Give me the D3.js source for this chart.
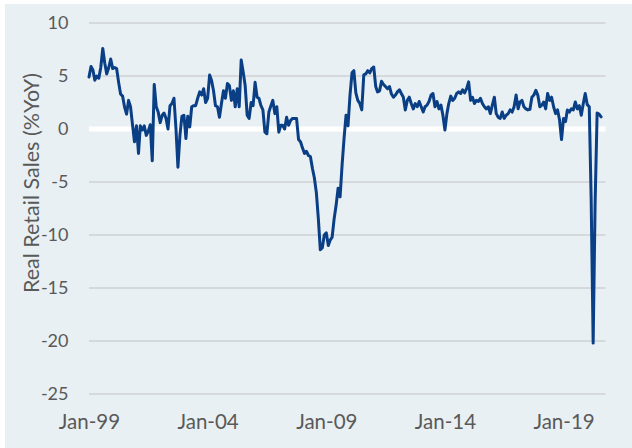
<!DOCTYPE html>
<html>
<head>
<meta charset="utf-8">
<script src="https://cdn.jsdelivr.net/npm/d3@7/dist/d3.min.js"></script>
<style>
  html, body { margin: 0; padding: 0; background: #ffffff; }
  svg { display: block; }
</style>
</head>
<body>
<svg id="chart" width="632" height="448"></svg>
<script>
// ---- data ----
const startMonth = "1999-01";
const retailYoY = [
  4.9, 5.9, 5.6, 4.6, 5.0, 4.8, 5.8, 7.6, 6.2, 5.2,
  5.8, 6.6, 5.7, 5.8, 5.7, 4.4, 3.3, 3.1, 2.1, 1.4,
  2.7, 2.1, 0.4, -1.2, 0.3, -2.3, 0.3, -0.1, 0.3, -0.6,
  -0.2, 0.4, -3.0, 4.2, 2.1, 1.6, 0.6, 1.3, 1.5, 1.0,
  0.0, 2.2, 2.4, 2.9, 0.0, -3.6, -0.6, 1.2, 1.3, -0.9,
  1.2, 0.2, 2.1, 2.2, 2.2, 2.9, 3.5, 3.2, 3.8, 2.5,
  2.9, 5.1, 4.6, 3.6, 2.2, 2.1, 1.1, 2.4, 3.6, 2.9,
  4.3, 4.1, 2.7, 3.6, 2.1, 3.8, 2.1, 6.5, 5.4, 4.1,
  1.3, 1.0, 2.5, 2.2, 4.4, 3.0, 2.9, 2.2, 1.8, -0.3,
  -0.45, 1.6, 2.2, 2.7, 1.45, 2.1, -0.3, 0.35, 0.35, 0.0,
  1.1, 0.35, 0.8, 1.0, 1.0, 1.0, -1.0, -1.2, -1.8, -2.3,
  -2.1, -2.5, -2.6, -3.7, -4.6, -6.0, -8.5, -11.4, -11.2, -10.0,
  -9.8, -11.0, -10.5, -10.2, -8.5, -7.2, -5.6, -6.4, -3.4, -0.9,
  1.3, 0.3, 3.2, 5.3, 5.5, 3.4, 2.7, 2.4, 1.8, 5.1,
  5.2, 5.5, 5.3, 5.7, 5.85, 4.0, 3.5, 3.6, 4.5, 4.2,
  4.0, 3.8, 4.0, 3.3, 3.0, 3.2, 3.5, 3.7, 3.35, 3.0,
  1.8, 2.7, 3.0, 2.4, 1.9, 2.4, 2.1, 2.6, 2.1, 1.6,
  2.1, 2.25, 2.6, 3.2, 3.35, 2.1, 2.6, 1.9, 2.25, 1.3,
  -0.1, 1.45, 2.4, 3.1, 2.7, 2.9, 3.35, 3.5, 3.35, 3.7,
  3.4, 3.8, 4.45, 2.7, 3.0, 2.4, 2.7, 2.6, 2.9, 2.4,
  2.1, 1.9, 2.1, 1.45, 2.25, 3.0, 1.45, 1.1, 1.0, 1.6,
  1.0, 1.3, 1.45, 1.8, 1.6, 2.1, 3.2, 1.9, 2.55, 2.7,
  2.1, 1.9, 1.8, 1.85, 3.0, 3.2, 3.65, 3.2, 2.1, 2.25,
  2.55, 1.9, 3.35, 2.7, 3.0, 2.1, 1.45, 1.8, 0.85, -1.0,
  1.0, 0.7, 1.8, 1.6, 1.9, 1.8, 2.55, 1.9, 2.2, 1.3,
  2.4, 3.35, 2.3, 2.1, -6.5, -20.2, -7.0, 1.5, 1.4, 1.15
];
const yTicks = [-25, -20, -15, -10, -5, 0, 5, 10];
const xTickMonths = ["1999-01", "2004-01", "2009-01", "2014-01", "2019-01"];
const xTickLabels = ["Jan-99", "Jan-04", "Jan-09", "Jan-14", "Jan-19"];
const xAxisEnd = "2020-10-08";
const yTitle = "Real Retail Sales (%YoY)";

// ---- build ----
const parseMonth = d3.timeParse("%Y-%m");
const parseDay = d3.timeParse("%Y-%m-%d");
const start = parseMonth(startMonth);
const series = retailYoY.map((v, i) => ({ date: d3.timeMonth.offset(start, i), value: v }));

const svg = d3.select("#chart");
const font = "Lato, 'Open Sans', sans-serif";
const textColor = "#595959";

svg.append("rect")
  .attr("x", 5).attr("y", 4)
  .attr("width", 627).attr("height", 444)
  .attr("fill", "#e8f0f3");

const x = d3.scaleTime()
  .domain([start, parseDay(xAxisEnd)])
  .range([89, 605.5]);
const y = d3.scaleLinear()
  .domain([-25, 10])
  .range([394, 23]);

// gridlines
svg.append("g")
  .selectAll("line")
  .data(yTicks.filter(d => d !== 0))
  .join("line")
  .attr("x1", x.range()[0]).attr("x2", x.range()[1])
  .attr("y1", d => y(d)).attr("y2", d => y(d))
  .attr("stroke", "#d6d9db")
  .attr("stroke-width", 2);

// zero line (white)
svg.append("line")
  .attr("x1", x.range()[0]).attr("x2", x.range()[1])
  .attr("y1", y(0)).attr("y2", y(0))
  .attr("stroke", "#ffffff")
  .attr("stroke-width", 5);

// y axis labels
const yAxis = d3.axisLeft(y).tickValues(yTicks).tickSize(0).tickPadding(0)
  .tickFormat(d3.format("d"));
const yG = svg.append("g").attr("transform", "translate(68.5,0)").call(yAxis);
yG.select(".domain").remove();
yG.selectAll("text")
  .attr("font-family", font).attr("font-size", 18)
  .attr("fill", textColor)
  .text(d => (d < 0 ? "-" + Math.abs(d) : String(d)));

// x axis labels
const xTickDates = xTickMonths.map(parseMonth);
const xAxis = d3.axisBottom(x).tickValues(xTickDates).tickSize(0).tickPadding(0)
  .tickFormat((d, i) => xTickLabels[i]);
const xG = svg.append("g").attr("transform", "translate(0,428.5)").call(xAxis);
xG.select(".domain").remove();
xG.selectAll("text")
  .attr("font-family", font).attr("font-size", 20.5)
  .attr("fill", textColor)
  .attr("dy", 0)
  .attr("y", 0);

// y title
svg.append("text")
  .attr("transform", "translate(39,183) rotate(-90)")
  .attr("text-anchor", "middle")
  .attr("font-family", font).attr("font-size", 21.5)
  .attr("fill", textColor)
  .text(yTitle);

// line
const line = d3.line()
  .x(d => x(d.date))
  .y(d => y(d.value));
svg.append("path")
  .datum(series)
  .attr("d", line)
  .attr("fill", "none")
  .attr("stroke", "#0a3f86")
  .attr("stroke-width", 3)
  .attr("stroke-linejoin", "round")
  .attr("stroke-linecap", "round");
</script>
</body>
</html>
